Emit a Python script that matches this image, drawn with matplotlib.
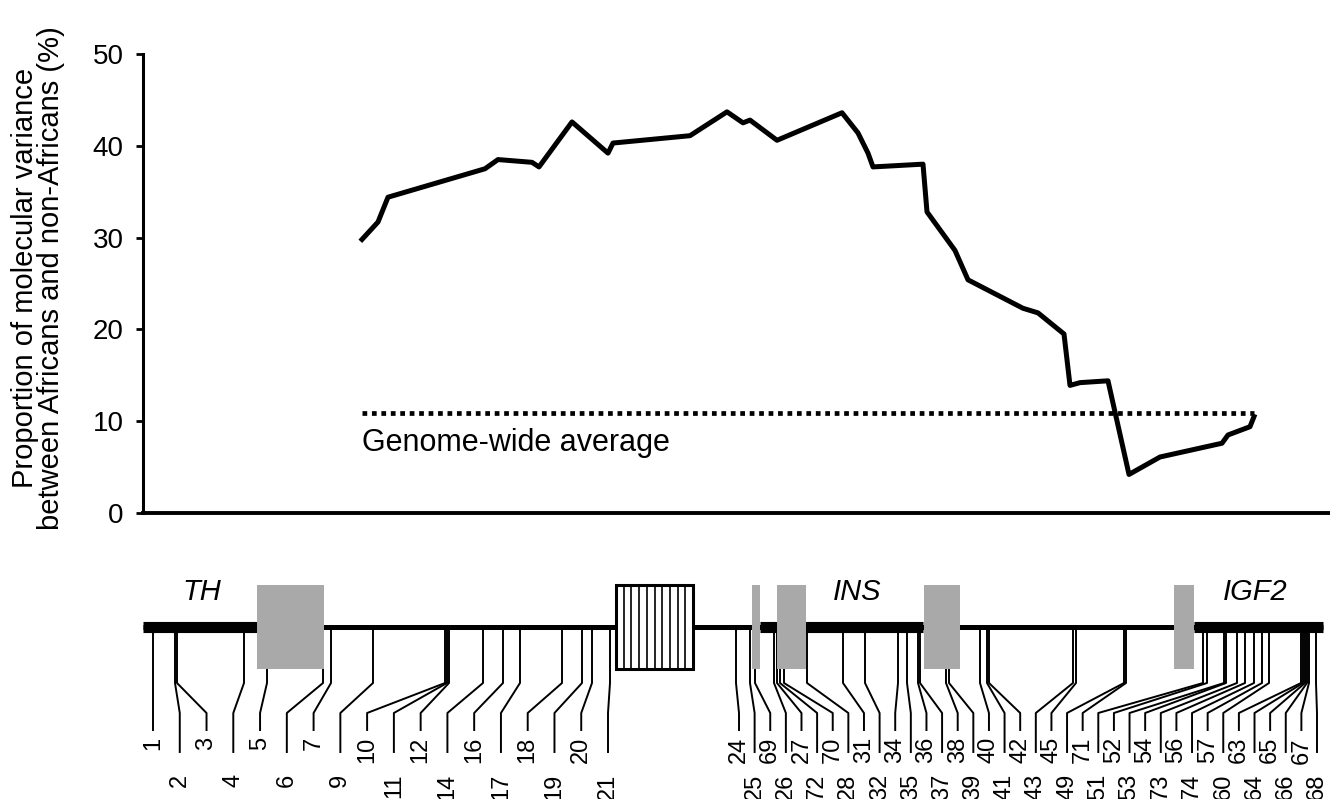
import numpy as np
import matplotlib
matplotlib.use("Agg")
import matplotlib.pyplot as plt
from matplotlib.patches import Rectangle

plt.rcParams['font.family'] = ['Liberation Sans', 'DejaVu Sans']

# sliding window curve, x = position along the map
win_pos = [362, 378, 388, 485, 498, 532, 539, 572, 608, 613, 690, 727, 743, 750,
           777, 842, 858, 868, 873, 923, 927, 955, 968, 1023, 1038, 1064, 1070,
           1080, 1108, 1129, 1160, 1222, 1228, 1250, 1254]
win_pct = [29.8, 31.7, 34.4, 37.5, 38.5, 38.2, 37.7, 42.6, 39.2, 40.3, 41.1, 43.7,
           42.5, 42.8, 40.6, 43.6, 41.4, 39.2, 37.7, 38.0, 32.8, 28.6, 25.4, 22.3,
           21.8, 19.5, 13.9, 14.2, 14.4, 4.2, 6.1, 7.6, 8.5, 9.4, 10.5]
genome_avg = 10.9
avg_span = [362, 1254]

# markers (left to right as labelled) and where they sit on the map
marker_names = ['1', '2', '3', '4', '5', '6', '7', '9', '10', '11', '12', '14', '16',
                '17', '18', '19', '20', '21',
                '24', '25', '69', '26', '27', '72', '70', '28', '31', '32', '34', '35',
                '36', '37', '38', '39', '40', '41', '42', '43', '45', '49', '71', '51',
                '52', '53', '54', '73', '56', '74', '57', '60', '63', '64', '65', '66',
                '67', '68']
marker_pos = [153, 175, 177, 244, 267, 323, 331, 373, 445, 447, 449, 483, 503, 520,
              562, 582, 592, 610,
              736, 750, 755, 774, 777, 780, 784, 807, 843, 865, 898, 907, 918, 920,
              946, 949, 980, 987, 989, 1073, 1076, 1124, 1126, 1203, 1207, 1224, 1226,
              1237, 1245, 1254, 1262, 1269, 1301, 1303, 1305, 1307, 1309, 1316]
n_left = 18

# map features
map_span = [143, 1323]
gene_segments = [(143, 257), (760, 923), (1194, 1323)]
gray_boxes = [(257, 324), (752, 760), (777, 806), (924, 960), (1174, 1194)]
repeat_box = (616, 693)
gene_names = ['TH', 'INS', 'IGF2']
gene_pos = [202, 857, 1255]

W, H = 1330, 799
fig = plt.figure(figsize=(W / 100, H / 100), dpi=100)

# ---- map (pixel-like coordinates shared with the curve's x) ----
mx = fig.add_axes([0, 0, 1, 1])
mx.set_xlim(0, W)
mx.set_ylim(H, 0)
mx.axis('off')

chrom_y = 627
box_top, box_bot = 585, 669
mx.plot(map_span, [chrom_y, chrom_y], color='k', lw=3.6, solid_capstyle='butt', zorder=2)
for x0, x1 in gene_segments:
    mx.plot([x0, x1], [chrom_y, chrom_y], color='k', lw=8, solid_capstyle='butt', zorder=2)
for x0, x1 in gray_boxes:
    mx.add_patch(Rectangle((x0, box_top), x1 - x0, box_bot - box_top,
                           facecolor='#a9a9a9', edgecolor='none', zorder=3))
r0, r1 = repeat_box
mx.add_patch(Rectangle((r0, box_top), r1 - r0, box_bot - box_top,
                       facecolor='white', edgecolor='k', lw=2.2, zorder=4))
for xh in np.linspace(r0, r1, 11)[1:-1]:
    mx.plot([xh, xh], [box_top, box_bot], color='k', lw=1.2, zorder=4)
for g, gx in zip(gene_names, gene_pos):
    mx.text(gx, 592, g, style='italic', fontsize=21, ha='center', va='center')

# connectors and labels
label_x = np.concatenate([np.linspace(153, 608, n_left),
                          np.linspace(739, 1317, len(marker_names) - n_left)])
row_end = [730, 752]
label_top = [737, 774]
for i, (name, a) in enumerate(zip(marker_names, marker_pos)):
    row = i % 2 if i < n_left else (i - n_left) % 2
    lx = label_x[i]
    mx.plot([a, a, lx, lx], [chrom_y, 683, 713, row_end[row]],
            color='k', lw=1.4, zorder=1)
    mx.text(lx, label_top[row], name, rotation=90, ha='center', va='top', fontsize=17)

# ---- curve ----
ax = fig.add_axes([143 / W, 1 - 513 / H, (W - 143) / W, (513 - 54) / H])
ax.patch.set_alpha(0)
ax.set_xlim(143, W)
ax.set_ylim(0, 50)
ax.plot(win_pos, win_pct, color='k', lw=3.6)
ax.plot(avg_span, [genome_avg, genome_avg], color='k', lw=3.4,
        linestyle=(0, (1, 1)), dash_capstyle='butt')
ax.text(avg_span[0], 9.3, 'Genome-wide average', fontsize=22, ha='left', va='top')
ax.set_yticks([0, 10, 20, 30, 40, 50])
ax.set_xticks([])
ax.tick_params(axis='y', labelsize=20, length=5, width=2, pad=9)
for s in ['top', 'right']:
    ax.spines[s].set_visible(False)
ax.spines['left'].set_linewidth(2.2)
ax.spines['bottom'].set_linewidth(2.8)

fig.text(38 / W, 1 - 278 / H,
         'Proportion of molecular variance\nbetween Africans and non-Africans (%)',
         rotation=90, ha='center', va='center', fontsize=21, linespacing=0.95)

fig.savefig('out.png', dpi=100)
